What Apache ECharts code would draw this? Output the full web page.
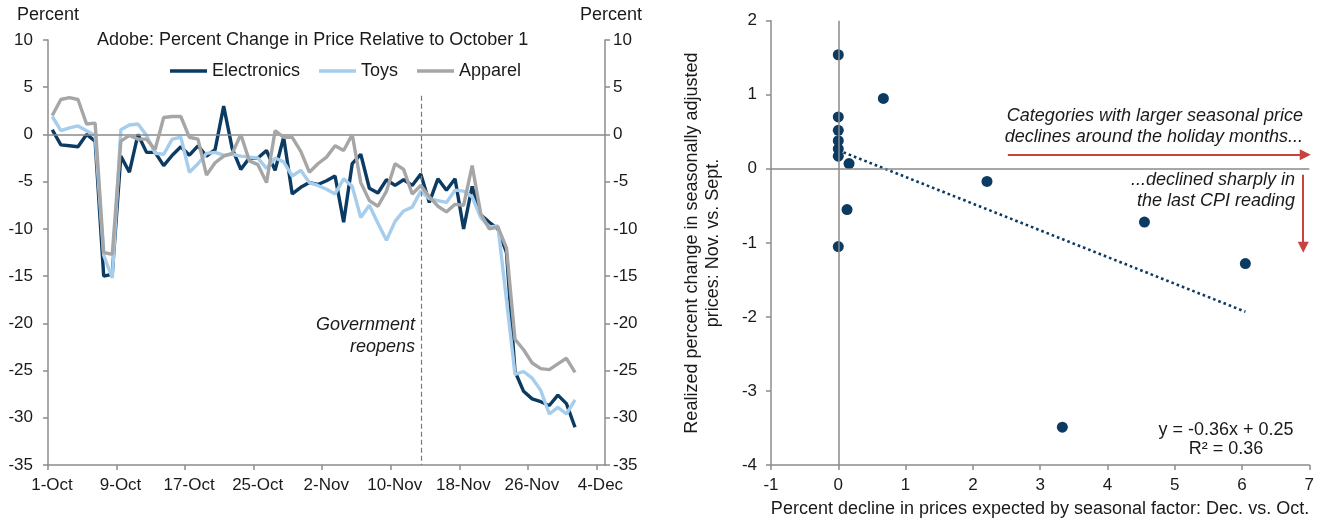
<!DOCTYPE html>
<html>
<head>
<meta charset="utf-8">
<script src="https://cdn.jsdelivr.net/npm/echarts@6/dist/echarts.min.js"></script>
<style>
html, body { margin: 0; padding: 0; background: #fff; }
#chart { width: 1320px; height: 523px; }
</style>
</head>
<body>
<div id="chart"></div>
<script>
// left panel: one reading per day, day 0 = 1-Oct
const tickLabels = ['1-Oct', '9-Oct', '17-Oct', '25-Oct', '2-Nov', '10-Nov', '18-Nov', '26-Nov', '4-Dec'];
const electronics = [0.5, -1.1, -1.2, -1.3, 0.0, -0.7, -15.0, -14.8, -2.3, -4.0,
  0.0, -1.9, -1.9, -3.3, -2.2, -1.3, -2.2, -1.2, -2.3, -1.6,
  3.0, -1.5, -3.7, -2.5, -2.5, -1.7, -3.8, -0.3, -6.3, -5.6,
  -5.1, -5.3, -4.9, -4.4, -9.3, -3.1, -2.1, -5.7, -6.2, -4.8,
  -5.4, -4.8, -5.4, -4.2, -7.2, -4.7, -5.9, -4.7, -10.0, -5.5,
  -8.5, -9.3, -10.0, -12.5, -25.1, -27.2, -28.0, -28.3, -28.7, -27.6,
  -28.5, -31.0];
const toys = [1.9, 0.4, 0.7, 0.9, 0.4, -0.1, -12.8, -15.2, 0.5, 1.0,
  1.1, -0.1, -2.0, -2.1, -0.5, -0.3, -4.0, -3.1, -2.0, -1.9,
  -2.2, -2.1, -2.3, -2.4, -2.5, -3.6, -2.5, -2.9, -4.4, -3.8,
  -5.1, -5.4, -5.8, -6.3, -4.7, -5.5, -8.8, -7.5, -9.4, -11.2,
  -9.2, -8.1, -7.7, -6.0, -6.8, -7.0, -7.2, -5.9, -6.0, -6.6,
  -8.8, -9.8, -9.7, -17.5, -25.4, -25.1, -25.8, -27.1, -29.6, -28.9,
  -29.6, -28.1];
const apparel = [2.0, 3.7, 3.9, 3.7, 1.1, 1.2, -12.5, -12.7, -0.7, -0.1,
  -0.5, -0.5, -1.6, 1.8, 1.9, 1.9, -0.3, -0.5, -4.3, -3.0,
  -2.3, -2.0, 0.0, -2.8, -3.2, -5.1, 0.4, -0.3, -0.3, -1.8,
  -4.0, -3.1, -2.4, -1.2, -1.7, 0.0, -5.1, -7.0, -7.6, -6.0,
  -3.1, -3.7, -6.3, -5.4, -6.6, -7.6, -8.2, -7.4, -7.5, -3.3,
  -8.4, -10.0, -9.8, -12.0, -21.7, -22.8, -24.2, -24.8, -24.9, -24.3,
  -23.7, -25.2];
const reopenDay = 43.6;

// right panel
const seasonalDecline = [0, 0, 0, 0, 0, 0, 0.16, 0.67, 0.13, 0, 2.21, 4.55, 6.05, 3.33];
const realizedChange = [1.54, 0.70, 0.52, 0.38, 0.27, 0.17, 0.07, 0.95, -0.55, -1.05, -0.17, -0.72, -1.28, -3.49];
const trendX = [0, 6.05];
const trendY = [0.25, -1.93];

const FONT = '"Liberation Sans", Arial, sans-serif';
const INK = '#1a1a1a';
const AXIS = '#8c8c8c';
const NAVY = '#0b3a63';
const LIGHT = '#a7cdec';
const GREY = '#a6a6a6';
const RED = '#c8423f';

const tickDays = tickLabels.map((_, i) => i * 8);
const toXY = arr => arr.map((v, i) => [i + 0.5, v]);

const axisLine = { lineStyle: { color: AXIS, width: 1.5 } };
const axisTick = { show: true, length: 5, lineStyle: { color: AXIS, width: 1.5 } };
const tickText = { color: INK, fontSize: 17, fontFamily: FONT };

const chart = echarts.init(document.getElementById('chart'));

const option = {
  animation: false,
  title: {
    text: 'Adobe: Percent Change in Price Relative to October 1',
    left: 97, top: 31, padding: 0,
    textStyle: { fontSize: 18, fontWeight: 'normal', color: INK, fontFamily: FONT }
  },
  legend: {
    left: 170, top: 62, padding: 0,
    icon: 'rect', itemWidth: 37, itemHeight: 3.5, itemGap: 19,
    data: ['Electronics', 'Toys', 'Apparel'],
    textStyle: { fontSize: 18, color: INK, fontFamily: FONT }
  },
  grid: [
    { left: 48, top: 40, width: 557, height: 425 },
    { left: 771, top: 20.7, width: 538.3, height: 444.3 }
  ],
  xAxis: [
    {
      gridIndex: 0, type: 'value', min: 0, max: 65,
      axisLine: Object.assign({ onZero: false }, axisLine),
      axisTick: Object.assign({ customValues: tickDays }, axisTick),
      axisLabel: Object.assign({
        customValues: tickDays, margin: 12, padding: [0, 0, 0, 8],
        formatter: v => tickLabels[Math.round(v / 8)]
      }, tickText),
      splitLine: { show: false }
    },
    {
      gridIndex: 1, type: 'value', min: -1, max: 7, interval: 1,
      axisLine: Object.assign({ onZero: false }, axisLine),
      axisTick: axisTick,
      axisLabel: Object.assign({ margin: 12 }, tickText),
      splitLine: { show: false }
    }
  ],
  yAxis: [
    {
      gridIndex: 0, type: 'value', min: -35, max: 10, interval: 5, position: 'left',
      axisLine: Object.assign({ show: true, onZero: false }, axisLine),
      axisTick: axisTick,
      axisLabel: Object.assign({ margin: 15 }, tickText),
      splitLine: { show: false }
    },
    {
      gridIndex: 0, type: 'value', min: -35, max: 10, interval: 5, position: 'right',
      axisLine: Object.assign({ show: true, onZero: false }, axisLine),
      axisTick: axisTick,
      axisLabel: Object.assign({ margin: 8 }, tickText),
      splitLine: { show: false }
    },
    {
      gridIndex: 1, type: 'value', min: -4, max: 2, interval: 1,
      axisLine: Object.assign({ show: true, onZero: false }, axisLine),
      axisTick: axisTick,
      axisLabel: Object.assign({ margin: 14 }, tickText),
      splitLine: { show: false }
    }
  ],
  series: [
    {
      name: 'Electronics', type: 'line', xAxisIndex: 0, yAxisIndex: 0,
      data: toXY(electronics), symbol: 'none', z: 3,
      lineStyle: { color: NAVY, width: 3.4 }, itemStyle: { color: NAVY },
      markLine: {
        silent: true, symbol: 'none', label: { show: false },
        data: [
          [{ coord: [0, 0], lineStyle: { color: '#8a8a8a', width: 1.5, type: 'solid' } }, { coord: [65, 0] }],
          [{ coord: [reopenDay, 4.1], lineStyle: { color: '#7a7a7a', width: 1.2, type: [5, 3] } }, { coord: [reopenDay, -35] }]
        ]
      }
    },
    {
      name: 'Toys', type: 'line', xAxisIndex: 0, yAxisIndex: 0,
      data: toXY(toys), symbol: 'none', z: 4,
      lineStyle: { color: LIGHT, width: 3.4 }, itemStyle: { color: LIGHT }
    },
    {
      name: 'Apparel', type: 'line', xAxisIndex: 0, yAxisIndex: 0,
      data: toXY(apparel), symbol: 'none', z: 5,
      lineStyle: { color: GREY, width: 3.4 }, itemStyle: { color: GREY }
    },
    {
      name: 'trend', type: 'line', xAxisIndex: 1, yAxisIndex: 2,
      data: trendX.map((x, i) => [x, trendY[i]]), symbol: 'none', z: 3,
      lineStyle: { color: NAVY, width: 2.6, type: [2.6, 3] },
      markLine: {
        silent: true, symbol: 'none', label: { show: false },
        lineStyle: { color: '#8a8a8a', width: 1.5, type: 'solid' },
        data: [{ xAxis: 0 }, { yAxis: 0 }]
      }
    },
    {
      name: 'categories', type: 'scatter', xAxisIndex: 1, yAxisIndex: 2,
      data: seasonalDecline.map((x, i) => [x, realizedChange[i]]),
      symbol: 'circle', symbolSize: 11, z: 4,
      itemStyle: { color: NAVY, opacity: 1 },
      markLine: {
        silent: true, symbol: ['none', 'triangle'], symbolSize: [11, 11],
        label: { show: false },
        lineStyle: { color: RED, width: 2, type: 'solid' },
        data: [
          [{ coord: [2.52, 0.19] }, { coord: [6.94, 0.19] }],
          [{ coord: [6.91, -0.08] }, { coord: [6.91, -1.06] }]
        ]
      }
    }
  ],
  graphic: [
    { type: 'text', style: { text: 'Percent', x: 17, y: 15, align: 'left', verticalAlign: 'middle', font: '18px ' + FONT, fill: INK } },
    { type: 'text', style: { text: 'Percent', x: 580, y: 15, align: 'left', verticalAlign: 'middle', font: '18px ' + FONT, fill: INK } },
    { type: 'text', style: { text: 'Government\nreopens', x: 415, y: 336, align: 'right', verticalAlign: 'middle', lineHeight: 22, font: 'italic 18px ' + FONT, fill: INK } },
    { type: 'text', style: { text: 'Categories with larger seasonal price\ndeclines around the holiday months...', x: 1303, y: 126, align: 'right', verticalAlign: 'middle', lineHeight: 21, font: 'italic 18px ' + FONT, fill: INK } },
    { type: 'text', style: { text: '...declined sharply in\nthe last CPI reading', x: 1295, y: 190, align: 'right', verticalAlign: 'middle', lineHeight: 21, font: 'italic 18px ' + FONT, fill: INK } },
    { type: 'text', style: { text: 'y = -0.36x + 0.25\nR² = 0.36', x: 1226, y: 440, align: 'center', verticalAlign: 'middle', lineHeight: 19, font: '18px ' + FONT, fill: INK } },
    { type: 'text', x: 703, y: 243, rotation: Math.PI / 2, style: { text: 'Realized percent change in seasonally adjusted\nprices: Nov. vs. Sept.', x: 0, y: 0, align: 'center', verticalAlign: 'middle', lineHeight: 21, font: '18px ' + FONT, fill: INK } },
    { type: 'text', style: { text: 'Percent decline in prices expected by seasonal factor: Dec. vs. Oct.', x: 1040, y: 509, align: 'center', verticalAlign: 'middle', font: '18px ' + FONT, fill: INK } }
  ]
};

chart.setOption(option);
</script>
</body>
</html>
